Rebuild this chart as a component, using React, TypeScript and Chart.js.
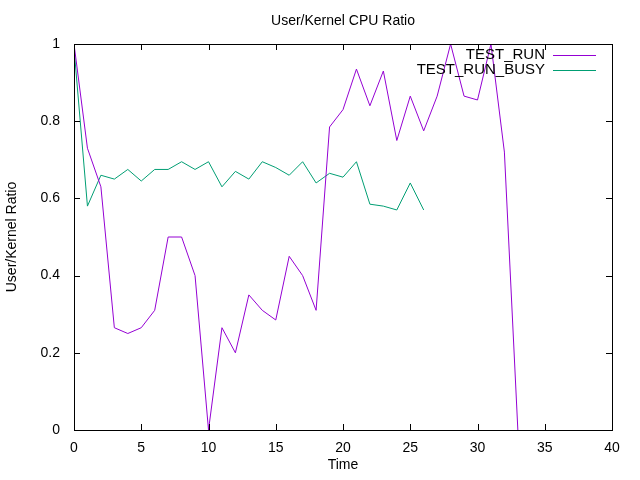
import React, { useEffect, useRef } from "react";
import { Chart, registerables } from "chart.js";
Chart.register(...registerables);

const runX = Array.from({ length: 34 }, (_, i) => i);
const runY = [1.0, 0.73, 0.63, 0.265, 0.25, 0.265, 0.31, 0.5, 0.5, 0.4, 0.0, 0.265, 0.2, 0.35, 0.31, 0.285, 0.45, 0.4, 0.31, 0.785, 0.83, 0.935, 0.84, 0.93, 0.75, 0.865, 0.775, 0.865, 1.0, 0.865, 0.855, 1.0, 0.72, 0.0];
const busyY = [0.99, 0.58, 0.66, 0.65, 0.675, 0.645, 0.675, 0.675, 0.695, 0.675, 0.695, 0.63, 0.67, 0.65, 0.695, 0.68, 0.66, 0.695, 0.64, 0.665, 0.655, 0.695, 0.585, 0.58, 0.57, 0.64, 0.57];
const seriesNames = ["TEST_RUN", "TEST_RUN_BUSY"];
const colors = ["#9400d3", "#009e73"];
const FONT = "'Liberation Sans', Arial, sans-serif";

export default function App() {
  const ref = useRef<HTMLCanvasElement>(null);
  useEffect(() => {
    document.body.style.margin = "0";
    const deco = {
      id: "deco",
      afterDraw(c: any) {
        const ctx = c.ctx, a = c.chartArea;
        ctx.save();
        ctx.strokeStyle = "#000"; ctx.lineWidth = 1;
        ctx.strokeRect(a.left + 0.5, a.top + 0.5, a.right - a.left, a.bottom - a.top);
        const xs = c.scales.x, ys = c.scales.y;
        ctx.beginPath();
        for (let v = 0; v <= 40; v += 5) {
          const p = Math.round(xs.getPixelForValue(v)) + 0.5;
          ctx.moveTo(p, a.bottom); ctx.lineTo(p, a.bottom - 6);
          ctx.moveTo(p, a.top); ctx.lineTo(p, a.top + 6);
        }
        for (let v = 0; v <= 1.0001; v += 0.2) {
          const p = Math.round(ys.getPixelForValue(v)) + 0.5;
          ctx.moveTo(a.left, p); ctx.lineTo(a.left + 6, p);
          ctx.moveTo(a.right, p); ctx.lineTo(a.right - 6, p);
        }
        ctx.stroke();
        ctx.fillStyle = "#000";
        ctx.font = `14px ${FONT}`;
        ctx.textAlign = "center"; ctx.textBaseline = "middle";
        ctx.fillText("User/Kernel CPU Ratio", 343, 21);
        ctx.font = `15px ${FONT}`;
        ctx.textAlign = "right";
        for (let i = 0; i < seriesNames.length; i++) {
          const y = 55 + i * 15;
          ctx.fillStyle = "#000";
          ctx.fillText(seriesNames[i], 545, y);
          ctx.beginPath();
          ctx.moveTo(553, y + 0.5); ctx.lineTo(596, y + 0.5);
          ctx.strokeStyle = colors[i];
          ctx.stroke();
        }
        ctx.restore();
      },
    };
    const chart = new Chart(ref.current!, {
      type: "line",
      data: {
        datasets: [
          { label: seriesNames[0], data: runY.map((y, i) => ({ x: runX[i], y })), borderColor: colors[0], borderWidth: 1, pointRadius: 0 },
          { label: seriesNames[1], data: busyY.map((y, i) => ({ x: i, y })), borderColor: colors[1], borderWidth: 1, pointRadius: 0 },
        ],
      },
      plugins: [deco],
      options: {
        animation: false, responsive: false,
        layout: { padding: { top: 44, right: 28, left: 4, bottom: 0 } },
        plugins: { legend: { display: false }, title: { display: false }, tooltip: { enabled: false } },
        scales: {
          x: {
            type: "linear", min: 0, max: 40,
            ticks: { stepSize: 5, color: "#000", font: { family: FONT, size: 14 }, maxRotation: 0, padding: 2 },
            grid: { display: false }, border: { display: false },
            title: { display: true, text: "Time", color: "#000", font: { family: FONT, size: 14 }, padding: { top: 0, bottom: 6 } },
            afterFit: (s: any) => { s.height = 50; },
          },
          y: {
            min: 0, max: 1,
            ticks: { stepSize: 0.2, color: "#000", font: { family: FONT, size: 14 }, padding: 6, callback: (v: any) => String(Math.round(v * 10) / 10) },
            grid: { display: false }, border: { display: false },
            title: { display: true, text: "User/Kernel Ratio", color: "#000", font: { family: FONT, size: 14 }, padding: 0 },
            afterFit: (s: any) => { s.width = 70; },
          },
        },
      },
    });
    return () => chart.destroy();
  }, []);
  return <canvas ref={ref} width={640} height={480} />;
}
